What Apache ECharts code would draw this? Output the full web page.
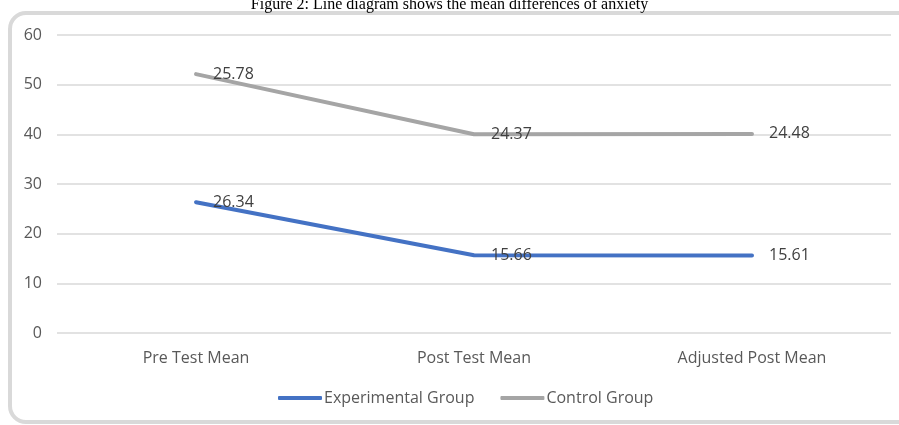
<!DOCTYPE html>
<html style="height:100%">
<head>
  <meta charset="UTF-8">
  <title>Line diagram: mean differences of anxiety</title>
  <script src="https://cdn.jsdelivr.net/npm/echarts/dist/echarts.min.js"></script>
  <style>
    html, body { margin: 0; padding: 0; background: #fff; }
    #chart { width: 899px; height: 425px; }
  </style>
</head>
<body>
<div id="chart"></div>
<script>
  // data (Excel stacked line: control sits on top of experimental)
  var categories = ['Pre Test Mean', 'Post Test Mean', 'Adjusted Post Mean'];
  var experimental = [26.34, 15.66, 15.61];
  var control = [25.78, 24.37, 24.48];
  var yTicks = [0, 10, 20, 30, 40, 50, 60];

  var font = '"Open Sans", "Noto Sans", sans-serif';

  var myChart = echarts.init(document.getElementById('chart'));

  // labels need a symbol to hang on, so keep a zero-size one
  function labelStyle() {
    return {
      show: true,
      position: 'right',
      distance: 17,
      color: '#404040',
      fontFamily: font,
      fontSize: 16,
      formatter: function (p) { return p.value.toFixed(2); }
    };
  }

  var option = {
    animation: false,
    graphic: [
      {
        // rounded chart-area border
        type: 'rect',
        shape: { x: 10, y: 13, width: 905, height: 409, r: 16 },
        style: { fill: 'none', stroke: '#d9d9d9', lineWidth: 4 },
        z: -1
      },
      {
        type: 'text',
        left: 'center',
        top: -3,
        style: {
          text: 'Figure 2: Line diagram shows the mean differences of anxiety',
          font: '16px "Liberation Serif", "Times New Roman", serif',
          fill: '#000'
        }
      }
    ],
    grid: { left: 57, right: 8, top: 35, bottom: 92, containLabel: false },
    legend: {
      bottom: 14,
      left: 273,
      itemGap: 26,
      itemWidth: 44,
      itemHeight: 4,
      icon: 'roundRect',
      textStyle: { color: '#595959', fontFamily: font, fontSize: 16, padding: [0, 0, 0, -3] },
      data: ['Experimental Group', 'Control Group']
    },
    xAxis: {
      type: 'category',
      data: categories,
      boundaryGap: true,
      axisLine: { show: false },
      axisTick: { show: false },
      axisLabel: { color: '#595959', fontFamily: font, fontSize: 16, margin: 17 }
    },
    yAxis: {
      type: 'value',
      min: yTicks[0],
      max: yTicks[yTicks.length - 1],
      interval: 10,
      axisLine: { show: false },
      axisTick: { show: false },
      axisLabel: { color: '#595959', fontFamily: font, fontSize: 16, margin: 15 },
      splitLine: { lineStyle: { color: '#d9d9d9', width: 1.5 } }
    },
    series: [
      {
        name: 'Experimental Group',
        type: 'line',
        stack: 'total',
        data: experimental,
        showSymbol: true,
        symbol: 'circle',
        symbolSize: 0,
        itemStyle: { color: '#4472c4' },
        lineStyle: { width: 4, cap: 'round', join: 'round' },
        label: labelStyle()
      },
      {
        name: 'Control Group',
        type: 'line',
        stack: 'total',
        data: control,
        showSymbol: true,
        symbol: 'circle',
        symbolSize: 0,
        itemStyle: { color: '#a5a5a5' },
        lineStyle: { width: 4, cap: 'round', join: 'round' },
        label: labelStyle()
      }
    ]
  };

  myChart.setOption(option);
</script>
</body>
</html>
